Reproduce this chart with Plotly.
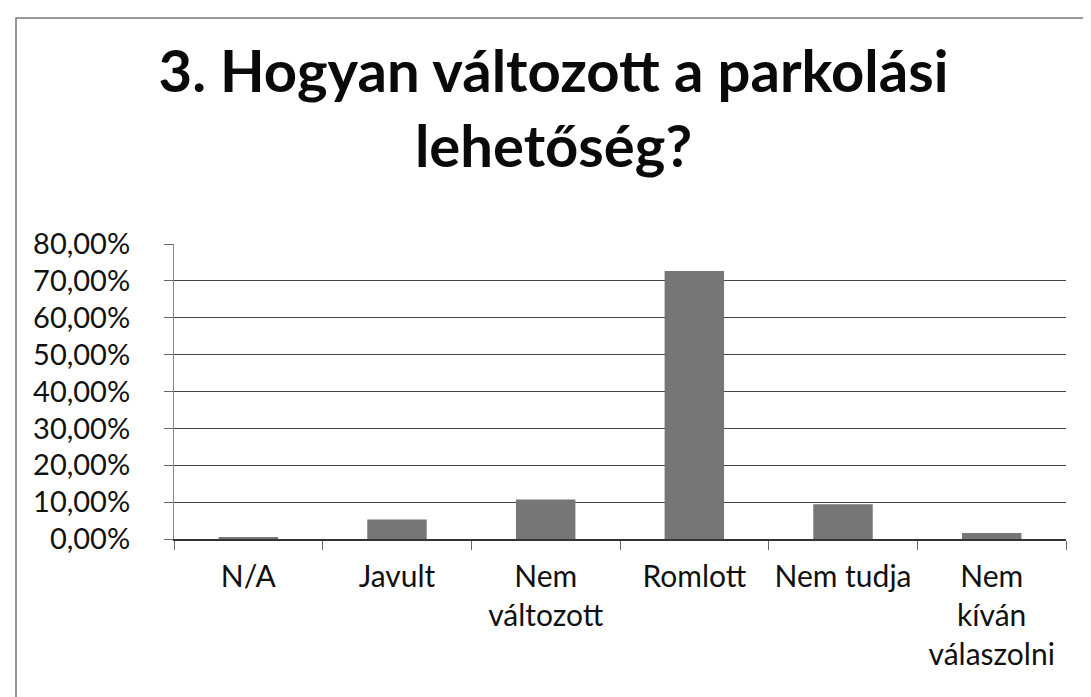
import plotly.graph_objects as go

categories = ["N/A", "Javult", "Nem<br>változott", "Romlott", "Nem tudja", "Nem<br>kíván<br>válaszolni"]
values = [0.005, 0.053, 0.107, 0.727, 0.094, 0.016]
title_text = "3. Hogyan változott a parkolási<br>lehetőség?"

W, H = 1091, 697
L, R, T, B = 166, 33, 236, 166
pw, ph = W - L - R, H - T - B

fig = go.Figure(go.Bar(
    x=categories, y=values,
    marker=dict(color="#767676", line=dict(width=0)),
    hoverinfo="x+y",
))

fig.update_layout(
    width=W, height=H,
    margin=dict(l=L, r=R, t=T, b=B),
    paper_bgcolor="white", plot_bgcolor="white",
    separators=", ",
    bargap=0.6,
    showlegend=False,
    font=dict(family="Lato, 'Open Sans', sans-serif", color="#111111"),
    title=dict(
        text=title_text,
        x=0.5, xanchor="center",
        y=1 - 84 / H, yanchor="top",
        font=dict(size=58, family="Lato, 'Open Sans', sans-serif", color="#0a0a0a", weight="bold"),
    ),
    xaxis=dict(
        type="category",
        tickson="boundaries",
        ticks="outside", ticklen=9, tickcolor="#666666",
        showline=True, linecolor="#333333", linewidth=1.5,
        showgrid=False,
        tickfont=dict(size=30, color="#111111"),
        ticklabelstandoff=10,
    ),
    yaxis=dict(
        range=[0, 0.8],
        dtick=0.1,
        tickformat=".2%",
        ticks="outside", ticklen=9, tickcolor="#666666",
        showline=True, linecolor="#888888", linewidth=1,
        showgrid=True, gridcolor="#444444", gridwidth=1.2,
        zeroline=False,
        tickfont=dict(size=29, color="#111111"),
        ticklabelstandoff=28,
    ),
    shapes=[dict(
        type="rect", xref="paper", yref="paper",
        x0=(8 - L) / pw, x1=(W + 5 - L) / pw,
        y0=-(H + 5 - T - ph) / ph, y1=(T + ph - 10) / ph,
        line=dict(color="#777777", width=1.5), fillcolor="rgba(0,0,0,0)",
    )],
)

fig.write_html("out.html")
